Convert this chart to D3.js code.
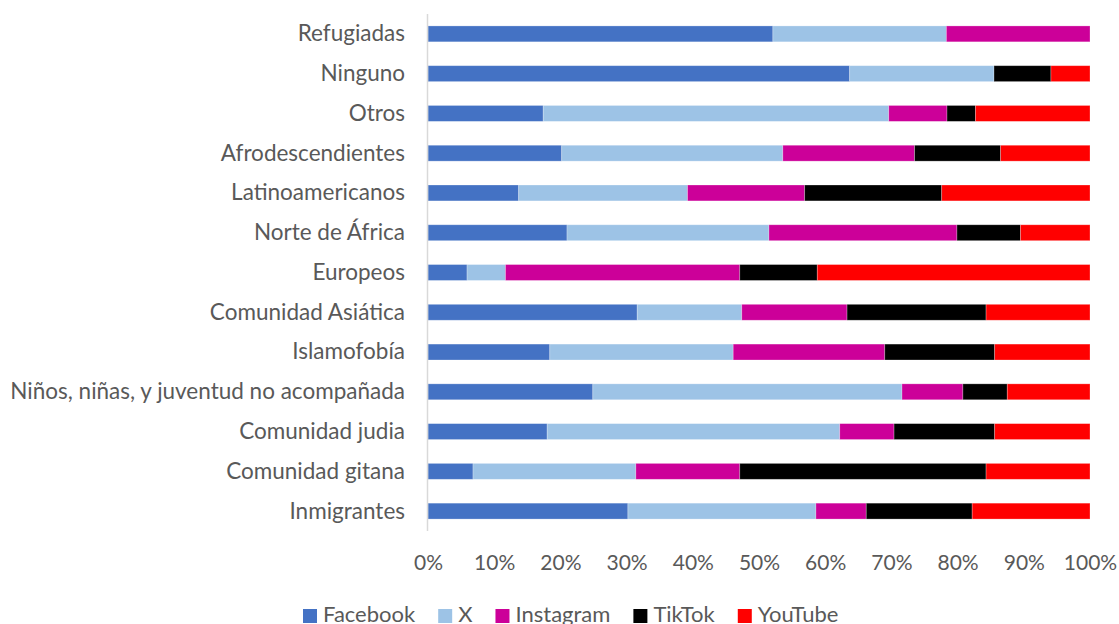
<!DOCTYPE html>
<html>
<head>
<meta charset="utf-8">
<script src="https://cdn.jsdelivr.net/npm/d3@7"></script>
<style>
  body { margin: 0; background: #fff; }
  svg text { font-family: Lato, "Open Sans", sans-serif; fill: #595959; }
</style>
</head>
<body>
<div id="plot"></div>
<script>
// categories from top to bottom
var categories = ["Refugiadas", "Ninguno", "Otros", "Afrodescendientes", "Latinoamericanos",
    "Norte de África ", "Europeos", "Comunidad Asiática", "Islamofobía",
    "Niños, niñas, y juventud no acompañada", "Comunidad judia", "Comunidad gitana", "Inmigrantes"];

var series = ["Facebook", "X", "Instagram", "TikTok", "YouTube"];
var colors = ["#4472C4", "#9DC3E6", "#CC0099", "#000000", "#FF0000"];

// percentages, one array per network
var facebook  = [52.1, 63.7, 17.4, 20.2, 13.7, 21.0,  5.9, 31.6, 18.4, 24.9, 18.0,  6.8, 30.2];
var xValues   = [26.2, 21.8, 52.2, 33.4, 25.5, 30.5,  5.8, 15.8, 27.7, 46.7, 44.2, 24.6, 28.4];
var instagram = [21.7,  0.0,  8.8, 19.9, 17.7, 28.4, 35.4, 15.9, 22.9,  9.2,  8.2, 15.7,  7.6];
var tiktok    = [ 0.0,  8.6,  4.3, 13.0, 20.7,  9.6, 11.7, 21.0, 16.6,  6.7, 15.2, 37.2, 16.0];
var youtube   = [ 0.0,  5.9, 17.3, 13.5, 22.4, 10.5, 41.2, 15.7, 14.4, 12.5, 14.4, 15.7, 17.8];

var xTicks = [0, 0.1, 0.2, 0.3, 0.4, 0.5, 0.6, 0.7, 0.8, 0.9, 1];

var table = categories.map(function(c, i) {
    return {
        category: c,
        "Facebook": facebook[i],
        "X": xValues[i],
        "Instagram": instagram[i],
        "TikTok": tiktok[i],
        "YouTube": youtube[i]
    };
});

var width = 1119, height = 624;
var margin = {top: 14, right: 29, bottom: 93, left: 428};

var svg = d3.select("#plot")
    .append("svg")
    .attr("width", width)
    .attr("height", height);

var x = d3.scaleLinear()
    .domain([0, 1])
    .range([margin.left, width - margin.right]);

var y = d3.scaleBand()
    .domain(categories)
    .range([margin.top, height - margin.bottom])
    .paddingInner(0.6)
    .paddingOuter(0.3);

var color = d3.scaleOrdinal()
    .domain(series)
    .range(colors);

var stack = d3.stack()
    .keys(series)
    .offset(d3.stackOffsetExpand);

var layers = stack(table);

svg.append("g")
    .selectAll("g")
    .data(layers)
    .join("g")
      .attr("fill", function(d) { return color(d.key); })
    .selectAll("rect")
    .data(function(d) { return d; })
    .join("rect")
      .attr("x", function(d) { return x(d[0]); })
      .attr("y", function(d) { return y(d.data.category); })
      .attr("width", function(d) { return Math.max(0, x(d[1]) - x(d[0])); })
      .attr("height", y.bandwidth())
      .attr("stroke", "#ffffff")
      .attr("stroke-opacity", 0.35)
      .attr("stroke-width", 0.75);

// vertical axis line
svg.append("line")
    .attr("x1", margin.left - 0.5)
    .attr("x2", margin.left - 0.5)
    .attr("y1", margin.top)
    .attr("y2", height - margin.bottom)
    .attr("stroke", "#d9d9d9")
    .attr("stroke-width", 1.5);

// category labels
var yAxis = svg.append("g")
    .attr("transform", "translate(" + (margin.left - 23) + ",0)")
    .call(d3.axisLeft(y).tickSize(0).tickPadding(0));
yAxis.select(".domain").remove();
yAxis.selectAll("text")
    .style("font-size", "22.5px")
    .attr("dy", "0.33em");

// percentage ticks
var xAxis = svg.append("g")
    .attr("transform", "translate(0," + (height - margin.bottom) + ")")
    .call(d3.axisBottom(x).tickValues(xTicks).tickFormat(d3.format(".0%")).tickSize(0).tickPadding(24));
xAxis.select(".domain").remove();
xAxis.selectAll("text")
    .style("font-size", "21px");

// legend
var legend = svg.append("g")
    .attr("transform", "translate(303,0)");

var offset = 0;
series.forEach(function(s) {
    var item = legend.append("g").attr("transform", "translate(" + offset + ",0)");
    item.append("rect")
        .attr("x", 0)
        .attr("y", 609)
        .attr("width", 14)
        .attr("height", 14)
        .attr("fill", color(s));
    var t = item.append("text")
        .attr("x", 20)
        .attr("y", 622)
        .style("font-size", "22px")
        .text(s);
    offset += 20 + t.node().getComputedTextLength() + 23;
});
</script>
</body>
</html>
